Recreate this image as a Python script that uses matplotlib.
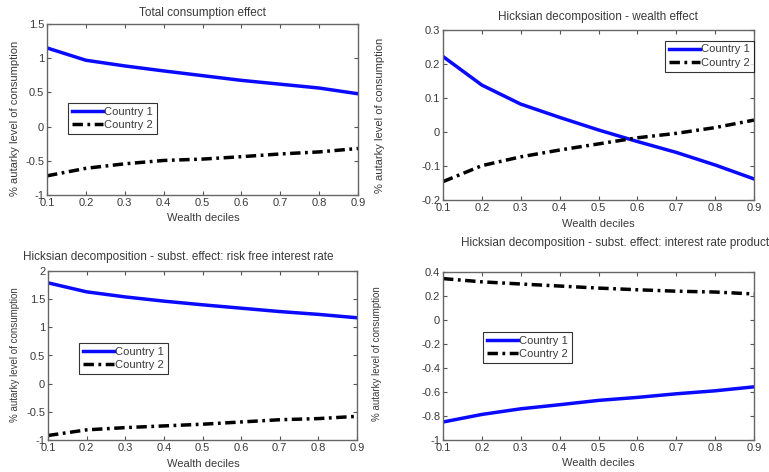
import matplotlib
matplotlib.use("Agg")
import matplotlib.pyplot as plt
import numpy as np

plt.rcParams['font.family'] = ['Liberation Sans', 'DejaVu Sans']

# wealth deciles on the x axis
deciles = [0.1, 0.2, 0.3, 0.4, 0.5, 0.6, 0.7, 0.8, 0.9]

# total consumption effect
total_c1 = [1.15, 0.97, 0.887, 0.814, 0.745, 0.676, 0.62, 0.564, 0.48]
total_c2 = [-0.72, -0.61, -0.544, -0.495, -0.475, -0.44, -0.40, -0.37, -0.32]

# wealth effect
wealth_c1 = [0.222, 0.138, 0.082, 0.043, 0.006, -0.028, -0.06, -0.097, -0.138]
wealth_c2 = [-0.146, -0.099, -0.073, -0.053, -0.035, -0.017, -0.004, 0.013, 0.035]

# substitution effect, risk free rate
rf_c1 = [1.79, 1.63, 1.54, 1.465, 1.40, 1.34, 1.28, 1.23, 1.17]
rf_c2 = [-0.92, -0.82, -0.78, -0.75, -0.72, -0.68, -0.64, -0.62, -0.58]

# substitution effect, production interest rate
prod_c1 = [-0.85, -0.787, -0.74, -0.706, -0.67, -0.645, -0.615, -0.59, -0.557]
prod_c2 = [0.345, 0.318, 0.30, 0.283, 0.266, 0.252, 0.24, 0.233, 0.217]

xticks = [0.1, 0.2, 0.3, 0.4, 0.5, 0.6, 0.7, 0.8, 0.9]
xlab = "Wealth deciles"
ylab = "% autarky level of consumption"
legend_names = ["Country 1", "Country 2"]

W, H = 769, 472
fig = plt.figure(figsize=(W / 100, H / 100), dpi=100)
txt = '#3a3a3a'


def box(x0, y0, x1, y1):
    # pixel box (top-left origin) -> figure fraction rect
    return [x0 / W, 1 - y1 / H, (x1 - x0) / W, (y1 - y0) / H]


def panel(rect, c1, c2, ylim, yticks, leg_loc, fs=8):
    ax = fig.add_axes(rect)
    ax.plot(deciles, c1, color='#0a0aff', lw=2.5, label=legend_names[0])
    ax.plot(deciles, c2, color='black', lw=2.5, ls=(0, (3, 1.3, 0.8, 1.3)), label=legend_names[1])
    ax.set_xlim(0.1, 0.9)
    ax.set_ylim(*ylim)
    ax.set_xticks(xticks)
    ax.set_xticklabels([f"{t:g}" for t in xticks])
    ax.set_yticks(yticks)
    ax.set_yticklabels([f"{t:g}" for t in yticks])
    ax.tick_params(direction='in', top=True, right=True, length=3, width=0.8,
                   colors='#555555', labelcolor=txt, labelsize=fs, pad=2)
    for s in ax.spines.values():
        s.set_color('#666666')
        s.set_linewidth(1.0)
    leg = ax.legend(loc='lower left', bbox_to_anchor=leg_loc, fontsize=fs,
                    frameon=True, fancybox=False, handlelength=2.8,
                    handletextpad=0.1, borderpad=0.35, labelspacing=0.3,
                    borderaxespad=0)
    leg.get_frame().set_edgecolor('black')
    leg.get_frame().set_linewidth(0.8)
    for t in leg.get_texts():
        t.set_color(txt)
    return ax


panel(box(47, 24, 358, 195), total_c1, total_c2, (-1, 1.5),
      [-1, -0.5, 0, 0.5, 1, 1.5], (0.068, 0.357))
panel(box(443, 30, 754, 200), wealth_c1, wealth_c2, (-0.2, 0.3),
      [-0.2, -0.1, 0, 0.1, 0.2, 0.3], (0.715, 0.755))
panel(box(48, 271, 357, 440), rf_c1, rf_c2, (-1, 2),
      [-1, -0.5, 0, 0.5, 1, 1.5, 2], (0.10, 0.39))
panel(box(443, 272, 754, 440), prod_c1, prod_c2, (-1, 0.4),
      [-1, -0.8, -0.6, -0.4, -0.2, 0, 0.2, 0.4], (0.129, 0.458))

# titles
fig.text(202 / W, 1 - 13 / H, "Total consumption effect", ha='center', va='center',
         fontsize=8.5, color=txt)
fig.text(598 / W, 1 - 17 / H, "Hicksian decomposition - wealth effect", ha='center',
         va='center', fontsize=8.5, color=txt)
fig.text(23 / W, 1 - 257 / H, "Hicksian decomposition - subst. effect: risk free interest rate",
         ha='left', va='center', fontsize=8.5, color=txt)
fig.text(461 / W, 1 - 243 / H, "Hicksian decomposition - subst. effect: interest rate production",
         ha='left', va='center', fontsize=8.5, color=txt)

# x labels
for xc, yc in [(203, 218), (598, 224), (203, 464), (598, 463)]:
    fig.text(xc / W, 1 - yc / H, xlab, ha='center', va='center', fontsize=8, color=txt)

# y labels
for xc, yc, fs in [(15, 118, 8), (380, 115, 8), (15, 355, 7), (377, 354, 7)]:
    fig.text(xc / W, 1 - yc / H, ylab, ha='center', va='center', rotation=90,
             fontsize=fs, color=txt)

fig.savefig("out.png", dpi=100)
